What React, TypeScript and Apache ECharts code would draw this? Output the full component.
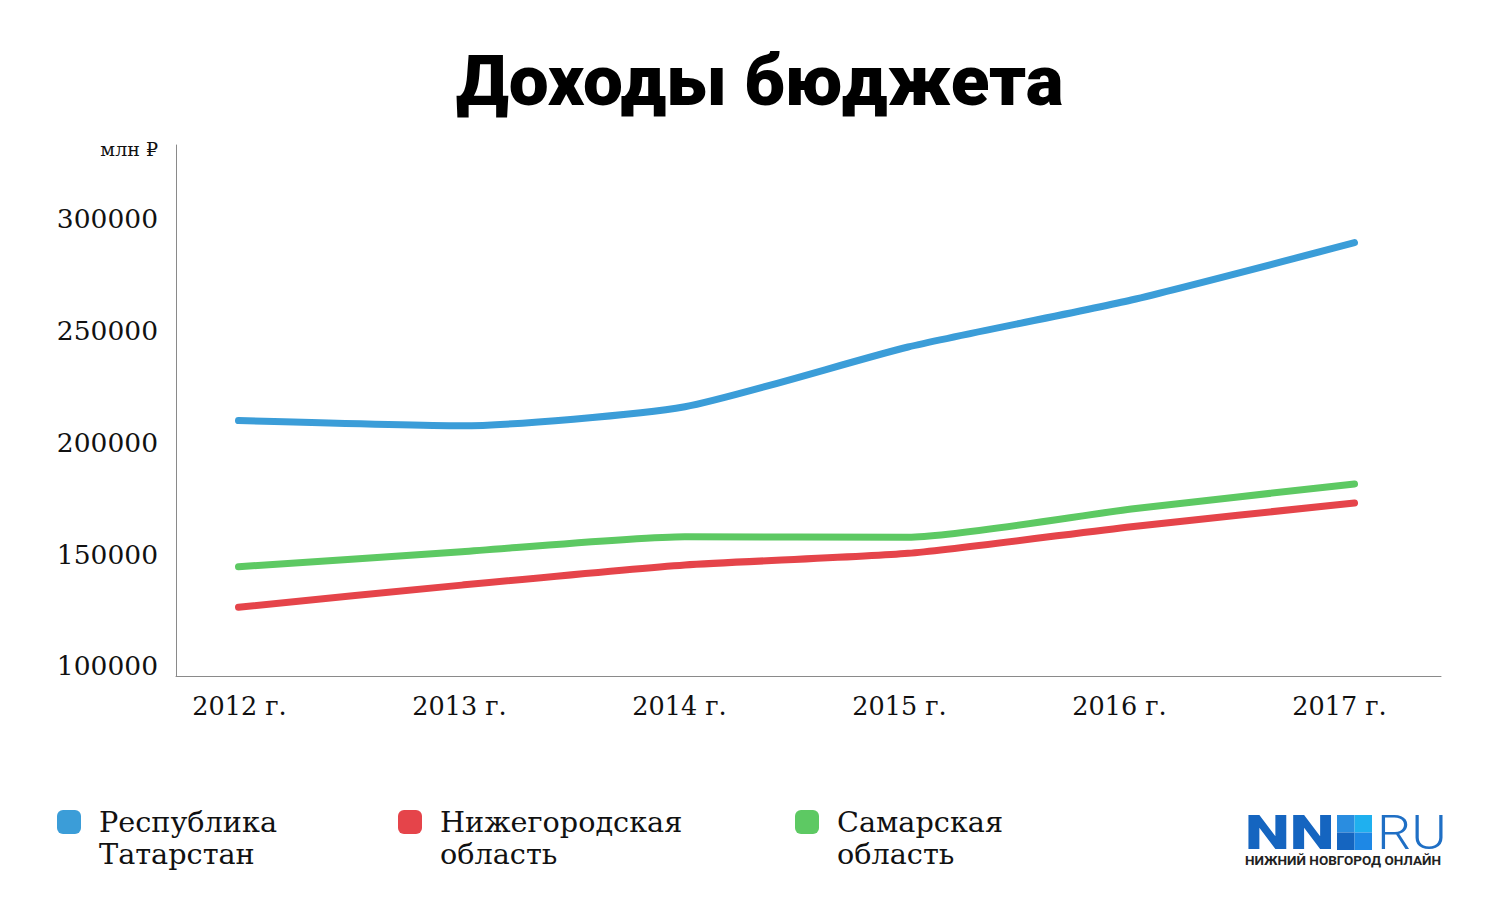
import React, { useEffect, useRef } from "react";
import * as echarts from "echarts";

const categories = ["2012 г.", "2013 г.", "2014 г.", "2015 г.", "2016 г.", "2017 г."];
const tatarstan = [209600, 207300, 215800, 242500, 263500, 289100];
const nizhny = [126200, 136100, 145100, 150300, 162200, 172800];
const samara = [144300, 151000, 157700, 157500, 170100, 181300];
const yTicks = [100000, 150000, 200000, 250000, 300000];
const seriesNames = ["Республика\nТатарстан", "Нижегородская\nобласть", "Самарская\nобласть"];
const colors = ["#3b9dd8", "#e5444a", "#5dc963"];

const SERIF = "'DejaVu Serif', serif";

export default function App() {
  const ref = useRef<HTMLDivElement>(null);
  useEffect(() => {
    if (!ref.current) return;
    const chart = echarts.init(ref.current, null, { renderer: "svg" });
    const toPairs = (arr: number[]) => arr.map((v, i) => [i, v]);
    const allData = [tatarstan, nizhny, samara];
    const legendLefts = [52, 393, 790];
    chart.setOption({
      animation: false,
      backgroundColor: "#ffffff",
      title: {
        text: "Доходы бюджета",
        left: 451,
        top: 40,
        textStyle: { fontFamily: "Roboto", fontWeight: 900, fontSize: 71, color: "#000" },
      },
      grid: { left: 176, right: 59, top: 145, bottom: 234.5, containLabel: false },
      legend: seriesNames.map((n, i) => ({
        data: [n],
        left: legendLefts[i],
        top: 769,
        icon: "roundRect",
        itemWidth: 24,
        itemHeight: 24,
        selectedMode: false,
        formatter: (name: string) => "\u00a0\n" + name,
        textStyle: {
          fontFamily: SERIF,
          fontSize: 28.7,
          lineHeight: 32,
          color: "#111",
          padding: [0, 0, 0, 13],
        },
      })),
      xAxis: [
        {
          type: "value",
          min: -0.28,
          max: 5.3875,
          axisLine: { show: true, onZero: false, lineStyle: { color: "#8a8a8a", width: 1 } },
          axisTick: { show: false },
          axisLabel: { show: false },
          splitLine: { show: false },
        },
        {
          type: "value",
          position: "bottom",
          min: -0.2886,
          max: 5.4614,
          axisLine: { show: false, onZero: false },
          axisTick: { show: false },
          splitLine: { show: false },
          axisLabel: {
            customValues: [0, 1, 2, 3, 4, 5],
            formatter: (v: number) => categories[Math.round(v)],
            fontFamily: SERIF,
            fontSize: 25.5,
            color: "#111",
            margin: 16,
          },
        },
      ],
      yAxis: {
        type: "value",
        min: 95264,
        max: 332752,
        axisLine: { show: true, onZero: false, lineStyle: { color: "#8a8a8a", width: 1 } },
        axisTick: { show: false },
        splitLine: { show: false },
        axisLabel: {
          customValues: yTicks,
          formatter: (v: number) => String(v),
          fontFamily: SERIF,
          fontSize: 26.5,
          color: "#111",
          margin: 18,
        },
      },
      series: allData.map((d, i) => ({
        name: seriesNames[i],
        type: "line",
        xAxisIndex: 0,
        data: toPairs(d),
        symbol: "none",
        smooth: 0.2,
        color: colors[i],
        lineStyle: { width: 7, color: colors[i], cap: "round", join: "round" },
      })),
      graphic: [
        {
          type: "text",
          right: 1500 - 158,
          top: 139,
          style: { text: "млн ₽", fontFamily: SERIF, fontSize: 19, fill: "#111" },
        },
        {
          type: "group",
          x: 1245,
          y: 815,
          children: [
            {
              type: "text",
              x: 0,
              y: 17.5,
              scaleX: 1.3,
              style: {
                text: "NN",
                fontFamily: "Roboto",
                fontWeight: 900,
                fontSize: 49,
                fill: "#1565c0",
                verticalAlign: "middle",
              },
            },
            { type: "rect", shape: { x: 92, y: 0, width: 17.5, height: 17.5 }, style: { fill: "#2a8de0" } },
            { type: "rect", shape: { x: 109.5, y: 0, width: 17.5, height: 17.5 }, style: { fill: "#1fb0ef" } },
            { type: "rect", shape: { x: 92, y: 17.5, width: 17.5, height: 17.5 }, style: { fill: "#1565c0" } },
            { type: "rect", shape: { x: 109.5, y: 17.5, width: 17.5, height: 17.5 }, style: { fill: "#1e88e5" } },
            {
              type: "text",
              x: 132,
              y: 17.5,
              scaleX: 1.1,
              style: {
                text: "RU",
                fontFamily: "Roboto",
                fontWeight: 300,
                fontSize: 49,
                fill: "#1f6fc5",
                verticalAlign: "middle",
              },
            },
            {
              type: "text",
              x: 0,
              y: 45,
              style: {
                text: "НИЖНИЙ НОВГОРОД ОНЛАЙН",
                fontFamily: "Roboto",
                fontWeight: 700,
                fontSize: 13.5,
                fill: "#222",
                verticalAlign: "middle",
              },
            },
          ],
        },
      ],
    });
    return () => chart.dispose();
  }, []);
  return <div ref={ref} style={{ position: "absolute", left: 0, top: 0, width: 1500, height: 911 }} />;
}
